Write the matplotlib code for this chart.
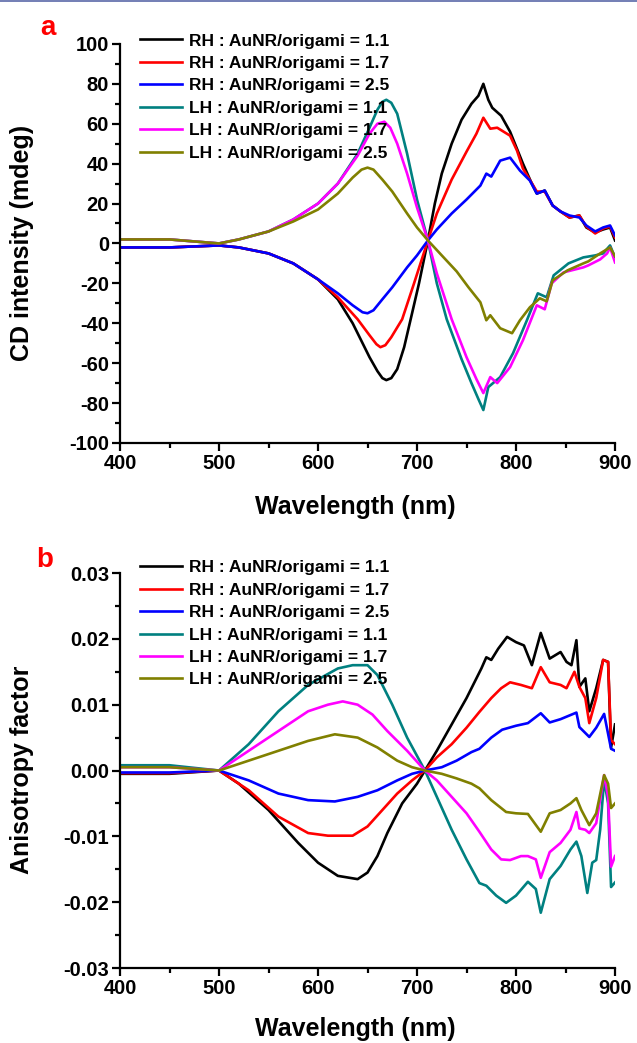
import matplotlib
matplotlib.use('Agg')
import matplotlib.pyplot as plt
from matplotlib.lines import Line2D
from matplotlib.ticker import MultipleLocator

plt.rcParams['font.family'] = ['Liberation Sans', 'DejaVu Sans']
plt.rcParams['font.weight'] = 'bold'
plt.rcParams['axes.unicode_minus'] = False

labels = ['RH : AuNR/origami = 1.1', 'RH : AuNR/origami = 1.7', 'RH : AuNR/origami = 2.5',
          'LH : AuNR/origami = 1.1', 'LH : AuNR/origami = 1.7', 'LH : AuNR/origami = 2.5']
colors = ['#000000', '#ff0000', '#0000ff', '#008080', '#ff00ff', '#808000']

# ---- panel a : CD intensity (mdeg) ----
rh11_wl = [400, 450, 500, 520, 550, 575, 600, 620, 635, 645, 652, 660, 665, 669, 674, 680, 687, 695, 702, 711, 718, 725,
           735, 745, 755, 762, 767, 772, 776, 785, 794, 807, 815, 821, 829, 837, 845, 854, 864, 871, 880, 888, 895, 900]
rh11_cd = [-2, -2, -1, -2, -5, -10, -18, -28, -40, -50, -57, -64, -67.5, -68.5, -67.5, -63, -52, -35, -20, 1.5, 20, 35,
           50, 62, 70, 74, 80, 72, 68, 64, 56, 40, 31, 25, 26.5, 19, 16, 13, 14, 8, 5.5, 7, 8, 1.5]

rh17_wl = [400, 450, 500, 520, 550, 575, 600, 620, 640, 652, 659, 663, 668, 674, 685, 697, 711, 720, 735, 750, 760, 767,
           774, 781, 794, 801, 807, 815, 821, 829, 837, 845, 854, 864, 871, 880, 888, 895, 900]
rh17_cd = [-2, -2, -1, -2, -5, -10, -18, -27, -38, -46, -50.5, -52, -51, -47, -38, -20, 1.5, 15, 32, 46, 55, 63,
           57.5, 58, 54, 46.5, 37.5, 31, 26, 26, 19, 16, 13, 14, 8.5, 5, 7.5, 8.5, 3]

rh25_wl = [400, 450, 500, 520, 550, 575, 600, 620, 635, 645, 650, 656, 665, 675, 690, 700, 711, 720, 735, 750, 760, 764,
           770, 775, 784, 794, 804, 814, 821, 829, 837, 845, 854, 864, 871, 880, 888, 895, 900]
rh25_cd = [-2, -2, -1, -2, -5, -10, -18, -25, -31, -34.5, -35, -33.5, -28, -22, -12, -6, 1.5, 7, 15, 22, 27, 29,
           35, 33.5, 41.5, 43, 36.5, 31.5, 25, 26.5, 19, 16, 14, 13, 9, 6, 8, 9, 4]

lh11_wl = [400, 450, 500, 520, 550, 575, 600, 620, 640, 652, 660, 665, 669, 674, 680, 690, 700, 711, 720, 730, 745, 755,
           762, 767, 772, 784, 797, 811, 822, 831, 838, 853, 868, 880, 888, 895, 900]
lh11_cd = [2, 2, 0, 2, 6, 12, 20, 30, 45, 58, 67, 71, 72, 70.5, 65, 45, 22, 1.5, -20, -38, -58, -70,
           -78, -83.5, -72, -67, -55, -38.5, -25, -27, -16, -10, -7, -6, -5, -1, -7]

lh17_wl = [400, 450, 500, 520, 550, 575, 600, 620, 640, 652, 660, 667, 673, 680, 690, 700, 711, 720, 735, 750, 760, 767,
           774, 781, 794, 807, 821, 829, 836, 848, 868, 873, 885, 892, 895, 900]
lh17_cd = [2, 2, 0, 2, 6, 12, 20, 30, 44, 55, 60, 61, 58, 50, 35, 18, 1.5, -15, -38, -57, -68, -75,
           -67, -70, -62, -48.5, -31, -33, -20, -14.5, -12, -11, -8, -5, -2, -9.5]

lh25_wl = [400, 450, 500, 520, 550, 575, 600, 620, 635, 644, 650, 656, 665, 675, 690, 700, 711, 725, 740, 752, 760, 764,
           770, 774, 784, 796, 804, 814, 824, 831, 837, 852, 868, 873, 885, 895, 900]
lh25_cd = [2, 2, 0, 2, 6, 11, 17, 25, 33, 37, 38, 37, 32, 26, 15, 8, 1.5, -6, -14, -22, -27, -29.5,
           -38.5, -36, -42.5, -45, -38.5, -32, -27.5, -29, -18.5, -13.5, -10, -9, -5, -2, -6.5]

# ---- panel b : anisotropy factor ----
rh11_g_wl = [400, 450, 500, 520, 550, 580, 600, 620, 640, 650, 660, 670, 685, 700, 708, 720, 735, 750, 765, 770, 775, 782,
             791, 800, 808, 816, 825, 834, 845, 851, 856, 861, 864, 870, 874, 881, 888, 893, 896, 900]
rh11_g = [-0.0005, -0.0005, 0, -0.002, -0.006, -0.011, -0.014, -0.016, -0.0165, -0.0155, -0.013, -0.0095, -0.005,
          -0.002, 0, 0.003, 0.007, 0.011, 0.0155, 0.0172, 0.0168, 0.0185, 0.0203, 0.0195, 0.019, 0.016, 0.0209,
          0.017, 0.018, 0.0165, 0.016, 0.0198, 0.0127, 0.014, 0.009, 0.0125, 0.0168, 0.0165, 0.0035, 0.007]

rh17_g_wl = [400, 450, 500, 530, 560, 590, 610, 635, 650, 665, 680, 695, 708, 720, 735, 750, 763, 775, 785, 794, 805, 816,
             825, 834, 845, 851, 859, 864, 870, 874, 881, 888, 893, 896, 900]
rh17_g = [-0.0004, -0.0004, 0, -0.003, -0.007, -0.0095, -0.0099, -0.0099, -0.0085, -0.006, -0.0035, -0.0015, 0, 0.002,
          0.004, 0.0065, 0.0089, 0.011, 0.0125, 0.0134, 0.013, 0.0125, 0.0157, 0.0134, 0.013, 0.0125, 0.015, 0.0127,
          0.011, 0.0072, 0.011, 0.0168, 0.0165, 0.0046, 0.004]

rh25_g_wl = [400, 450, 500, 530, 560, 590, 617, 640, 660, 680, 695, 708, 725, 740, 755, 763, 775, 786, 800, 812, 825, 834,
             845, 861, 864, 874, 881, 889, 896, 900]
rh25_g = [-0.0003, -0.0003, 0, -0.0015, -0.0035, -0.0045, -0.0047, -0.004, -0.003, -0.0015, -0.0005, 0, 0.0005, 0.0015,
          0.0028, 0.0033, 0.005, 0.0062, 0.0068, 0.0072, 0.0087, 0.0073, 0.0078, 0.0088, 0.0066, 0.0051, 0.0065, 0.0086,
          0.0033, 0.003]

lh11_g_wl = [400, 450, 500, 530, 560, 590, 620, 635, 650, 660, 675, 690, 708, 720, 735, 750, 763, 770, 780, 790, 800, 812,
             820, 825, 834, 845, 855, 861, 866, 872, 877, 881, 885, 889, 893, 896, 900]
lh11_g = [0.0008, 0.0008, 0, 0.004, 0.009, 0.013, 0.0155, 0.016, 0.016, 0.0145, 0.010, 0.005, 0, -0.004, -0.009, -0.0135,
          -0.0171, -0.0175, -0.019, -0.0201, -0.019, -0.0169, -0.018, -0.0216, -0.0165, -0.0145, -0.012, -0.0108,
          -0.013, -0.0186, -0.014, -0.0136, -0.009, -0.0014, -0.005, -0.0177, -0.017]

lh17_g_wl = [400, 450, 500, 530, 560, 590, 610, 625, 640, 655, 670, 690, 708, 720, 735, 750, 763, 775, 785, 794, 805, 812,
             820, 825, 834, 845, 855, 861, 864, 870, 874, 881, 889, 893, 896, 900]
lh17_g = [0.0005, 0.0005, 0, 0.003, 0.006, 0.009, 0.010, 0.0105, 0.010, 0.0085, 0.006, 0.003, 0, -0.0015, -0.004, -0.0065,
          -0.0093, -0.012, -0.0135, -0.0136, -0.013, -0.013, -0.0135, -0.0163, -0.0124, -0.011, -0.009, -0.0063,
          -0.0088, -0.009, -0.0095, -0.008, -0.0007, -0.004, -0.0146, -0.013]

lh25_g_wl = [400, 450, 500, 530, 560, 590, 617, 640, 660, 680, 695, 708, 725, 740, 755, 763, 775, 790, 800, 812, 825, 834,
             845, 855, 861, 866, 874, 881, 889, 893, 896, 900]
lh25_g = [0.0005, 0.0005, 0, 0.0015, 0.003, 0.0045, 0.0055, 0.005, 0.0035, 0.0015, 0.0005, 0, -0.0005, -0.0012, -0.002,
          -0.0027, -0.0045, -0.0063, -0.0065, -0.0066, -0.0093, -0.0065, -0.006, -0.005, -0.0042, -0.006, -0.0083,
          -0.0065, -0.0007, -0.002, -0.0057, -0.005]

cd_series = [(rh11_wl, rh11_cd), (rh17_wl, rh17_cd), (rh25_wl, rh25_cd),
             (lh11_wl, lh11_cd), (lh17_wl, lh17_cd), (lh25_wl, lh25_cd)]
g_series = [(rh11_g_wl, rh11_g), (rh17_g_wl, rh17_g), (rh25_g_wl, rh25_g),
            (lh11_g_wl, lh11_g), (lh17_g_wl, lh17_g), (lh25_g_wl, lh25_g)]

fig = plt.figure(figsize=(6.37, 10.43), dpi=100)
ax1 = fig.add_axes([0.1884, 0.5753, 0.7771, 0.3826])
ax2 = fig.add_axes([0.1884, 0.0719, 0.7771, 0.3787])


def style(ax):
    for s in ['top', 'right']:
        ax.spines[s].set_visible(False)
    for s in ['left', 'bottom']:
        ax.spines[s].set_linewidth(1.6)
    ax.tick_params(which='major', direction='out', length=6, width=1.6, labelsize=14.5, pad=2)
    ax.tick_params(which='minor', direction='out', length=3.5, width=1.6)
    ax.set_xlim(400, 900)
    ax.xaxis.set_major_locator(MultipleLocator(100))
    ax.xaxis.set_minor_locator(MultipleLocator(50))
    for lab in ax.get_xticklabels() + ax.get_yticklabels():
        lab.set_fontweight('bold')


for (x, y), c, lab in zip(cd_series, colors, labels):
    ax1.plot(x, y, color=c, lw=1.9, label=lab)
ax1.set_ylim(-100, 100)
ax1.yaxis.set_major_locator(MultipleLocator(20))
ax1.yaxis.set_minor_locator(MultipleLocator(10))
style(ax1)

for (x, y), c, lab in zip(g_series, colors, labels):
    ax2.plot(x, y, color=c, lw=1.9, label=lab)
ax2.set_ylim(-0.03, 0.03)
ax2.yaxis.set_major_locator(MultipleLocator(0.01))
ax2.yaxis.set_minor_locator(MultipleLocator(0.005))
ax2.yaxis.set_major_formatter(plt.FormatStrFormatter('%.2f'))
style(ax2)

for ax, top in [(ax1, 0.968), (ax2, 0.463)]:
    ax.legend(loc='upper left', bbox_to_anchor=(0.2198, top), bbox_transform=fig.transFigure,
              frameon=False, borderpad=0, borderaxespad=0, handlelength=2.4, handletextpad=0.4,
              labelspacing=0.42, prop={'size': 12.5, 'weight': 'bold'})

fig.text(22 / 637, 1 - 243 / 1043, 'CD intensity (mdeg)', rotation=90, ha='center', va='center',
         fontsize=18, fontweight='bold')
fig.text(22 / 637, 1 - 770 / 1043, 'Anisotropy factor', rotation=90, ha='center', va='center',
         fontsize=18, fontweight='bold')
fig.text(355 / 637, 1 - 507 / 1043, 'Wavelength (nm)', ha='center', va='center', fontsize=18, fontweight='bold')
fig.text(355 / 637, 1 - 1029 / 1043, 'Wavelength (nm)', ha='center', va='center', fontsize=18, fontweight='bold')

fig.text(48 / 637, 1 - 28 / 1043, 'a', color='#ff0000', ha='center', va='center', fontsize=20, fontweight='bold')
fig.text(45 / 637, 1 - 560 / 1043, 'b', color='#ff0000', ha='center', va='center', fontsize=20, fontweight='bold')

fig.add_artist(Line2D([0, 1], [0.9995, 0.9995], transform=fig.transFigure, color='#5a68a8', lw=1.2))

fig.savefig('out.png', dpi=100)
